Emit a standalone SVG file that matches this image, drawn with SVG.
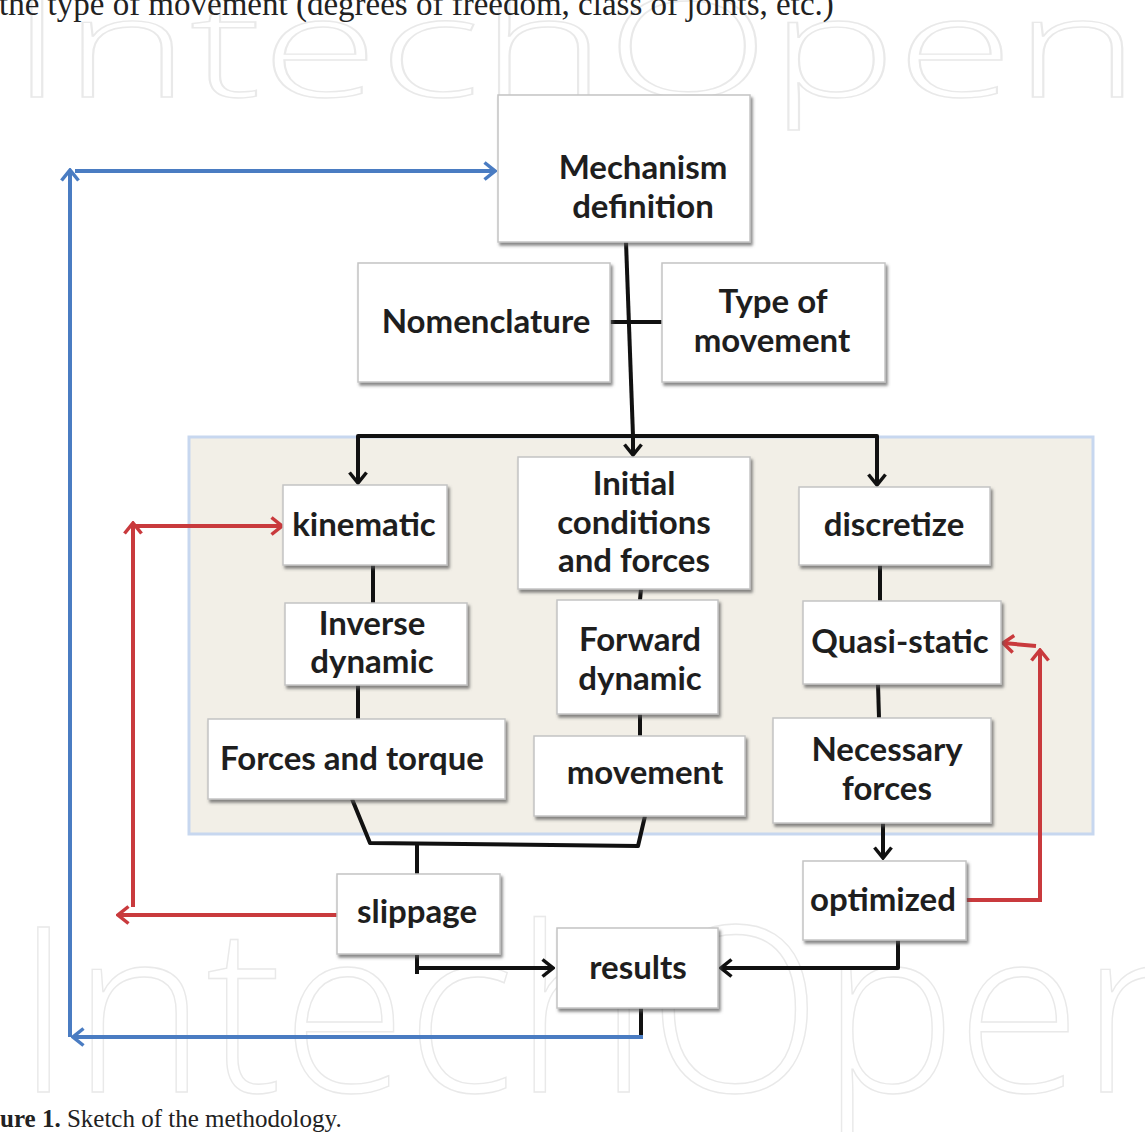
<svg xmlns="http://www.w3.org/2000/svg" width="1145" height="1132" viewBox="0 0 1145 1132">
<style>
.wm{font-family:"Open Sans",sans-serif;font-weight:300;fill:none;stroke:#e9e9e9;stroke-width:1.4}
.box{fill:#fff;stroke:#c4c4c4;stroke-width:1.5;filter:url(#sh)}
.t{font-family:Lato,"Liberation Sans",sans-serif;font-weight:700;font-size:33px;fill:#1e1e1e;text-anchor:middle}
.k{fill:none;stroke:#111;stroke-width:4;stroke-linejoin:round}
.b{fill:none;stroke:#4a7cc2;stroke-width:4}
.r{fill:none;stroke:#c93a3d;stroke-width:4}
.serif{font-family:"Liberation Serif",serif;fill:#222}
</style>
<defs>
<filter id="sh" x="-10%" y="-10%" width="125%" height="130%">
<feDropShadow dx="2" dy="3" stdDeviation="1.5" flood-color="#555" flood-opacity="0.7"/>
</filter>
<marker id="ak" viewBox="0 0 14 20" refX="12" refY="10" markerWidth="14" markerHeight="20" markerUnits="userSpaceOnUse" orient="auto">
<path d="M1.5,1.5 L12,10 L1.5,18.5" fill="none" stroke="#111" stroke-width="3.5"/>
</marker>
<marker id="ab" viewBox="0 0 14 20" refX="12" refY="10" markerWidth="14" markerHeight="20" markerUnits="userSpaceOnUse" orient="auto">
<path d="M1.5,1.5 L12,10 L1.5,18.5" fill="none" stroke="#4a7cc2" stroke-width="3.5"/>
</marker>
<marker id="ar" viewBox="0 0 14 20" refX="12" refY="10" markerWidth="14" markerHeight="20" markerUnits="userSpaceOnUse" orient="auto">
<path d="M1.5,1.5 L12,10 L1.5,18.5" fill="none" stroke="#c93a3d" stroke-width="3.5"/>
</marker>
</defs>
<rect width="1145" height="1132" fill="#fff"/>
<g id="watermark">
<text class="wm" x="10" y="97" font-size="140" textLength="1130" lengthAdjust="spacingAndGlyphs">IntechOpen</text>
<text class="wm" x="15" y="1092" font-size="230" textLength="1200" lengthAdjust="spacingAndGlyphs">IntechOpen</text>
</g>
<text class="serif" x="-1" y="15" font-size="33">the type of movement (degrees of freedom, class of joints, etc.)</text>
<text class="serif" x="0" y="1127" font-size="25"><tspan font-weight="700">ure 1.</tspan> Sketch of the methodology.</text>

<rect id="panel" x="189" y="437" width="904" height="397" fill="#f2efe7" stroke="#c7d7ef" stroke-width="3"/>

<g id="connectors">
<path class="k" d="M626,242 L633,436"/>
<path class="k" d="M609,322 L662,322"/>
<path class="k" d="M633,436 L358,436 L358,483" marker-end="url(#ak)"/>
<path class="k" d="M633,436 L877,436 L877,485" marker-end="url(#ak)"/>
<path class="k" d="M633,436 L633,455" marker-end="url(#ak)"/>
<path class="k" d="M373,565 L373,603"/>
<path class="k" d="M358,685 L358,719"/>
<path class="k" d="M641,589 L640,600"/>
<path class="k" d="M640,714 L640,736"/>
<path class="k" d="M880,565 L880,601"/>
<path class="k" d="M878,684 L879,718"/>
<path class="k" d="M352,799 L370,843 L638,846 L645,816"/>
<path class="k" d="M417,844 L417,874"/>
<path class="k" d="M883,823 L883,858" marker-end="url(#ak)"/>
<path class="k" d="M417,955 L417,974"/>
<path class="k" d="M417,968 L553,968" marker-end="url(#ak)"/>
<path class="k" d="M898,940 L898,968 L721,968" marker-end="url(#ak)"/>
<path class="k" d="M641,1008 L641,1037"/>
<path class="b" d="M643,1037 L73,1037" marker-end="url(#ab)"/>
<path class="b" d="M70,1037 L70,170" marker-end="url(#ab)"/>
<path class="b" d="M75,171 L495,171" marker-end="url(#ab)"/>
<path class="r" d="M337,915 L118,915" marker-end="url(#ar)"/>
<path class="r" d="M133,907 L133,523" marker-end="url(#ar)"/>
<path class="r" d="M133,526 L282,526" marker-end="url(#ar)"/>
<path class="r" d="M966,900 L1040,900 L1040,650" marker-end="url(#ar)"/>
<path class="r" d="M1036,646 L1003,643" marker-end="url(#ar)"/>
</g>

<g id="mechanism"><rect class="box" x="498" y="95" width="252" height="147"/><text class="t" x="643" y="179">Mechanism</text><text class="t" x="643" y="218">definition</text></g>
<g id="nomenclature"><rect class="box" x="358" y="263" width="252" height="119"/><text class="t" x="486" y="333">Nomenclature</text></g>
<g id="type"><rect class="box" x="662" y="263" width="223" height="119"/><text class="t" x="773" y="313">Type of</text><text class="t" x="772" y="352">movement</text></g>
<g id="kinematic"><rect class="box" x="283" y="485" width="164" height="80"/><text class="t" x="364" y="536">kinematic</text></g>
<g id="initial"><rect class="box" x="518" y="457" width="232" height="132"/><text class="t" x="634" y="495">Initial</text><text class="t" x="634" y="534">conditions</text><text class="t" x="634" y="572">and forces</text></g>
<g id="discretize"><rect class="box" x="799" y="487" width="191" height="78"/><text class="t" x="894" y="536">discretize</text></g>
<g id="inverse"><rect class="box" x="285" y="603" width="182" height="82"/><text class="t" x="372" y="635">Inverse</text><text class="t" x="372" y="673">dynamic</text></g>
<g id="forward"><rect class="box" x="557" y="600" width="161" height="114"/><text class="t" x="640" y="651">Forward</text><text class="t" x="640" y="690">dynamic</text></g>
<g id="quasi"><rect class="box" x="803" y="601" width="198" height="83"/><text class="t" x="900" y="653">Quasi-static</text></g>
<g id="forces"><rect class="box" x="208" y="719" width="297" height="80"/><text class="t" x="352" y="770">Forces and torque</text></g>
<g id="movement"><rect class="box" x="534" y="736" width="211" height="80"/><text class="t" x="645" y="784">movement</text></g>
<g id="necessary"><rect class="box" x="773" y="718" width="218" height="105"/><text class="t" x="887" y="761">Necessary</text><text class="t" x="887" y="800">forces</text></g>
<g id="slippage"><rect class="box" x="337" y="874" width="163" height="80"/><text class="t" x="417" y="923">slippage</text></g>
<g id="optimized"><rect class="box" x="803" y="861" width="163" height="79"/><text class="t" x="883" y="911">optimized</text></g>
<g id="results"><rect class="box" x="557" y="928" width="161" height="80"/><text class="t" x="638" y="979">results</text></g>
</svg>
